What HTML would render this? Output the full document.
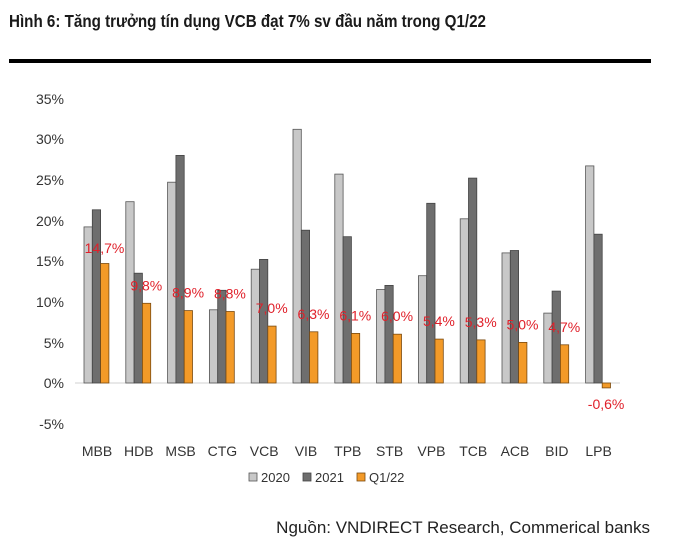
<!DOCTYPE html>
<html><head><meta charset="utf-8"><style>
body{margin:0;background:#fff;width:675px;height:545px;overflow:hidden}
svg{display:block;font-family:"Liberation Sans",Arial,sans-serif}
</style></head><body>
<svg id="s" width="675" height="545" xmlns="http://www.w3.org/2000/svg">
<text x="9" y="27" font-size="17.5" font-weight="bold" fill="#1a1a1a" textLength="477" lengthAdjust="spacingAndGlyphs">Hình 6: Tăng trưởng tín dụng VCB đạt 7% sv đầu năm trong Q1/22</text>
<rect x="9" y="59" width="642" height="4" fill="#000"/>
<g font-size="14" fill="#333" text-anchor="end">
<text x="64" y="104">35%</text><text x="64" y="144">30%</text><text x="64" y="185">25%</text><text x="64" y="226">20%</text><text x="64" y="266">15%</text><text x="64" y="307">10%</text><text x="64" y="348">5%</text><text x="64" y="388">0%</text><text x="64" y="429">-5%</text>
</g>
<line x1="75" y1="383" x2="620" y2="383" stroke="#d0d0d0" stroke-width="1"/>
<g id="bars"></g>
<g font-size="13" fill="#333">
<rect x="249" y="473" width="8" height="8" fill="#c8c8c8" stroke="#555" stroke-width="0.8"/><text x="261" y="482">2020</text>
<rect x="303" y="473" width="8" height="8" fill="#6e6e6e" stroke="#444" stroke-width="0.8"/><text x="315" y="482">2021</text>
<rect x="357" y="473" width="8" height="8" fill="#f39a28" stroke="#7a4a10" stroke-width="0.8"/><text x="369" y="482">Q1/22</text>
</g>
<text x="650" y="533" font-size="17" fill="#222" text-anchor="end">Nguồn: VNDIRECT Research, Commerical banks</text>
</svg>
<script>
var d=[["MBB",19.2,21.3,14.7],["HDB",22.3,13.5,9.8],["MSB",24.7,28,8.9],["CTG",9,11.4,8.8],["VCB",14,15.2,7.0],["VIB",31.2,18.8,6.3],["TPB",25.7,18,6.1],["STB",11.5,12,6.0],["VPB",13.2,22.1,5.4],["TCB",20.2,25.2,5.3],["ACB",16,16.3,5.0],["BID",8.6,11.3,4.7],["LPB",26.7,18.3,-0.6]];
var cols=["#c8c8c8","#6e6e6e","#f39a28"],strk=["#555","#444","#7a4a10"];
var s="",y0=383,k=8.13;
d.forEach(function(r,i){
 var c=96.5+i*41.8;
 for(var j=0;j<3;j++){
  var v=r[j+1],x=c-12.5+j*8.3,h=Math.abs(v)*k,y=v>=0?y0-h:y0;
  s+='<rect x="'+x.toFixed(1)+'" y="'+y.toFixed(1)+'" width="8.3" height="'+h.toFixed(1)+'" fill="'+cols[j]+'" stroke="'+strk[j]+'" stroke-width="0.8"/>';
 }
 s+='<text x="'+(c+0.5)+'" y="'+(456)+'" font-size="14" fill="#333" text-anchor="middle">'+r[0]+'</text>';
 var lab=(r[3].toFixed(1)).replace(".",",")+"%";
 var ly=r[3]>=0?y0-r[3]*k-13:409;
 if(i==0)ly=253;
 s+='<text x="'+(c+8)+'" y="'+ly.toFixed(1)+'" font-size="14" fill="#e0202a" text-anchor="middle">'+lab+'</text>';
});
document.getElementById("bars").innerHTML=s;
</script>
</body></html>
